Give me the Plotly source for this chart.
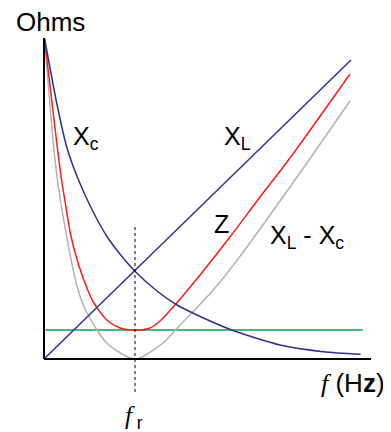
import plotly.graph_objects as go

# reading the picture: frequency (arbitrary units) and ohms (arbitrary units)
xl_freq = [0, 307]
xl_ohms = [0, 299]

xc_freq = [0.7, 12.7, 23, 33.3, 46.7, 63.3, 76.7, 90.7, 111.7, 133, 148.7, 187.7, 236, 279.3, 316.7]
xc_ohms = [320, 256, 211, 182, 152, 122, 104, 88, 69, 54, 46, 29, 14, 7.3, 4.7]

z_freq = [0.5, 13.5, 18, 20.5, 26.7, 35, 43.3, 49.3, 62.7, 76, 91, 106, 116, 131, 156, 186, 216, 246, 306]
z_ohms = [320, 210, 176, 161, 124, 93, 70, 57, 39, 31, 28.7, 31, 38, 54, 84, 122, 162, 201, 285]

diff_freq = [0.5, 10, 14.3, 23.3, 33.3, 41, 62.7, 91, 119, 136, 147.7, 169.3, 194, 246, 306]
diff_ohms = [320, 209, 173, 119, 72, 50, 16, 0, 16, 34, 46, 69, 100, 172, 258]

r_freq = [0, 318.7]
r_ohms = [29, 29]

f_res = 91
res_line = [-33, 133]

f_max = 327
ohm_max = 321

BLUE = '#2e3192'
RED = '#ff1a1a'
GREY = '#b3b3b3'
GREEN = '#00a651'
FONT = 'Liberation Sans, Arial, sans-serif'
F_ITALIC = '<span style="font-family:Liberation Serif"><i>f</i></span>'

fig = go.Figure()

fig.add_trace(go.Scatter(x=r_freq, y=r_ohms, mode='lines', line=dict(color=GREEN, width=1.5)))
fig.add_trace(go.Scatter(x=diff_freq, y=diff_ohms, mode='lines', line=dict(color=GREY, width=1.5, shape='spline', smoothing=0.7)))
fig.add_trace(go.Scatter(x=z_freq, y=z_ohms, mode='lines', line=dict(color=RED, width=1.5, shape='spline', smoothing=0.7)))
fig.add_trace(go.Scatter(x=xc_freq, y=xc_ohms, mode='lines', line=dict(color=BLUE, width=1.5, shape='spline', smoothing=0.7)))
fig.add_trace(go.Scatter(x=xl_freq, y=xl_ohms, mode='lines', line=dict(color=BLUE, width=1.5)))
fig.add_trace(go.Scatter(x=[f_res, f_res], y=res_line, mode='lines', line=dict(color='black', width=1, dash='dot')))

# axes
fig.add_shape(type='line', x0=0, x1=f_max, y0=0, y1=0, line=dict(color='black', width=2))
fig.add_shape(type='line', x0=0, x1=0, y0=0, y1=ohm_max, line=dict(color='black', width=2))

labels = [
    ('Ohms', 6.5, 337, 'center', 26),
    ('X<sub>c</sub>', 27, 221, 'left', 25),
    ('X<sub>L</sub>', 178, 221, 'left', 25),
    ('Z', 168, 135, 'left', 25),
    ('X<sub>L</sub> - X<sub>c</sub>', 224, 122, 'left', 25),
    (F_ITALIC + ' (H<b>z</b>)', 275, -24, 'left', 26),
    (F_ITALIC + '<sub> r</sub>', 79, -58, 'left', 25),
]
for text, x, y, anchor, size in labels:
    fig.add_annotation(
        x=x, y=y, text=text, showarrow=False,
        xanchor=anchor, yanchor='middle',
        font=dict(family=FONT, size=size, color='black')
    )

# page body keeps an 8px margin, so the plot area is placed with that in mind
fig.update_xaxes(range=[-36, 355], visible=False)
fig.update_yaxes(range=[-81, 351], visible=False)
fig.update_layout(
    width=391,
    height=432,
    margin=dict(l=0, r=0, t=0, b=0),
    showlegend=False,
    plot_bgcolor='white',
    paper_bgcolor='white',
)
fig.write_html('out.html')
